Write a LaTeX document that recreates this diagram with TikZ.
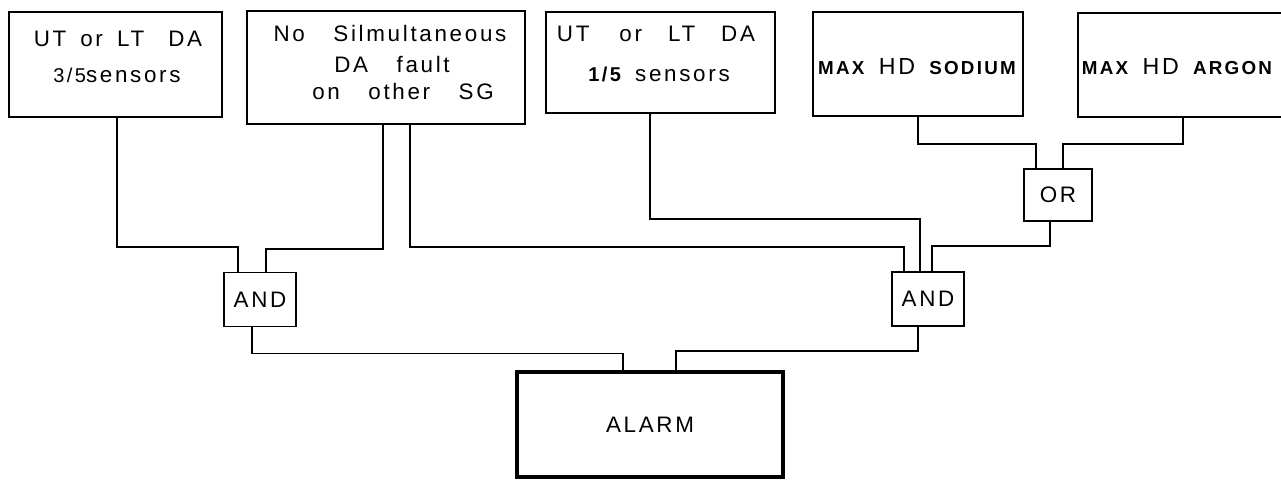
\documentclass[tikz,border=0pt]{standalone}
\usepackage{fontspec}
\setmainfont{Liberation Sans}[LetterSpace=12,WordSpace=1.6]

\begin{document}
\begin{tikzpicture}[x=0.5pt,y=-0.5pt,
  font=\fontsize{11.2}{13}\selectfont,
  blk/.style={draw,line width=1pt,inner sep=0pt},
  gate/.style={draw,line width=0.8pt,inner sep=0pt,minimum width=36pt,minimum height=27pt},
  txt/.style={anchor=base,inner sep=0pt},
  wire/.style={line width=0.8pt}]

\useasboundingbox (0,0) rectangle (1281,481);

% ---------- input boxes ----------
\node[blk,minimum width=106.5pt,minimum height=52.5pt] (b1) at (115.5,64.5) {};
\node[txt] (t1a) at (118,47) {UT\hspace{7pt}or LT\hspace{12pt}DA};
\node[txt] (t1b) at (117,83) {{\fontsize{10}{11}\selectfont 3/5}sensors};

\node[blk,line width=0.75pt,minimum width=139pt,minimum height=56.5pt] (b2) at (386,67.5) {};
\node[txt] (t2a) at (390,42) {No~~Silmultaneous};
\node[txt] (t2b) at (392,73) {DA~~fault};
\node[txt] (t2c) at (403,100) {on~~other~~SG};

\node[blk,minimum width=114.5pt,minimum height=50.5pt] (b3) at (660.5,62.5) {};
\node[txt] (t3a) at (656,42) {UT\hspace{15pt}or\hspace{13pt}LT\hspace{13pt}DA};
\node[txt] (t3b) at (659,82) {{\fontsize{10}{11}\selectfont\bfseries 1/5} sensors};

\node[blk,minimum width=105pt,minimum height=52pt] (b4) at (918,64) {};
\node[txt] (t4) at (917,75) {{\fontsize{9.4}{10}\selectfont\bfseries MAX}~{\fontsize{11.6}{12}\selectfont HD}~{\fontsize{9.4}{10}\selectfont\bfseries SODIUM}};

\node[blk,minimum width=106pt,minimum height=52pt] (b5) at (1184,65) {};
\node[txt] (t5) at (1177,75) {{\fontsize{9.4}{10}\selectfont\bfseries MAX}~{\fontsize{11.6}{12}\selectfont HD}~{\fontsize{9.4}{10}\selectfont\bfseries ARGON}};

% ---------- gates ----------
\node[gate] (andL) at (260,299.5) {AND};
\node[gate] (andR) at (928,299) {AND};
\node[gate,minimum width=34pt,minimum height=26pt] (orG) at (1058,195) {OR};
\node[blk,line width=1.8pt,minimum width=133pt,minimum height=52.5pt] (alarm) at (650,424.5) {ALARM};

% ---------- wiring ----------
\draw[wire] ([xshift=0.75pt]b1.south) -- ++(0,129) -| ([xshift=-11pt]andL.north);
\draw[wire] ([xshift=-1.5pt]b2.south) -- ++(0,124) -| ([xshift=3pt]andL.north);
\draw[wire] ([xshift=12pt]b2.south) -- ++(0,122) -| ([xshift=-12pt]andR.north);
\draw[wire] ([xshift=-5.25pt]b3.south) -- ++(0,105) -| ([xshift=-4pt]andR.north);
\draw[wire] (b4.south) -- ++(0,27) -| ([xshift=-11pt]orG.north);
\draw[wire] ([xshift=-0.5pt]b5.south) -- ++(0,26) -| ([xshift=2.5pt]orG.north);
\draw[wire] ([xshift=-4pt]orG.south) -- ++(0,24) -| ([xshift=2pt]andR.north);
\draw[wire] ([xshift=-4pt]andL.south) -- ++(0,26) -| ([xshift=-13.5pt]alarm.north);
\draw[wire] ([xshift=-5pt]andR.south) -- ++(0,24) -| ([xshift=13pt]alarm.north);
\end{tikzpicture}
\end{document}
